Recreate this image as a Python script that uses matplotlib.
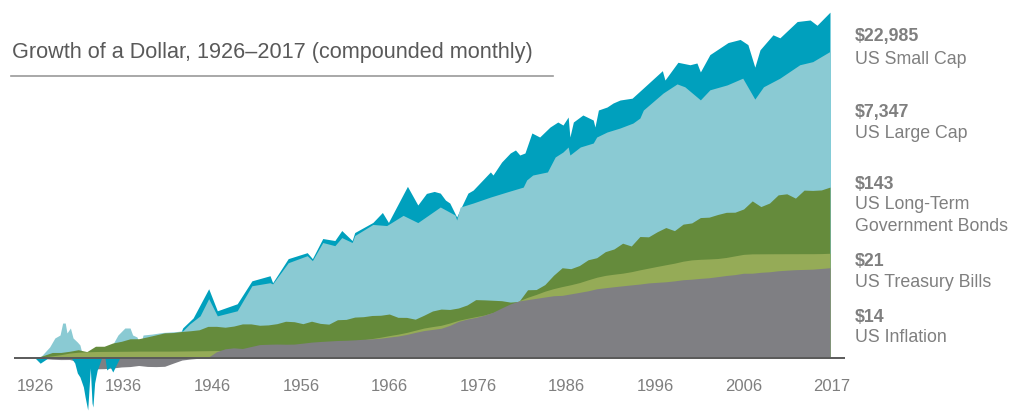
import matplotlib
matplotlib.use("Agg")
import matplotlib.pyplot as plt
from matplotlib.lines import Line2D
import matplotlib.transforms as mtransforms
import numpy as np

plt.rcParams['font.family'] = ['Liberation Sans', 'DejaVu Sans']

# growth of $1 (fractional years)
sc_years = [1926.0, 1926.6, 1927.5, 1928.8, 1929.7, 1930.2, 1930.6, 1930.9, 1931.2, 1931.6,
            1931.8, 1932.1, 1932.4, 1932.6, 1932.7, 1932.9, 1933.2, 1933.3, 1933.7, 1934.1,
            1934.3, 1934.7, 1935.0, 1935.4, 1935.8, 1936.5, 1937.3, 1938.0, 1939.5, 1941.0,
            1942.3, 1943.1, 1944.3, 1946.1, 1947.1, 1949.4, 1951.1, 1953.2, 1953.5, 1955.3,
            1957.5, 1958.1, 1959.3, 1960.7, 1961.5, 1962.7, 1963.0, 1965.1, 1966.2, 1966.9,
            1969.1, 1970.3, 1971.3, 1972.2, 1972.9, 1973.5, 1974.0, 1974.8, 1975.0, 1976.1,
            1976.7, 1978.7, 1979.0, 1980.0, 1981.0, 1981.6, 1982.1, 1982.7, 1983.5, 1984.4,
            1985.6, 1986.5, 1987.1, 1987.7, 1987.9, 1988.3, 1989.4, 1990.6, 1990.8, 1991.2,
            1992.2, 1992.9, 1993.7, 1995.1, 1996.4, 1998.6, 1998.9, 2000.4, 2001.8, 2002.6,
            2003.0, 2004.1, 2006.2, 2007.6, 2008.5, 2009.3, 2009.9, 2011.4, 2012.2, 2014.2,
            2015.7, 2016.5, 2018.0]
small_cap = [1.0, 0.86, 1.05, 1.45, 1.20, 1.0, 0.865, 0.647, 0.576, 0.431,
             0.322, 0.221, 0.748, 0.271, 0.241, 0.484, 0.706, 0.748, 1.0, 1.0,
             0.706, 0.77, 0.666, 0.82, 1.0, 1.60, 1.30, 1.10, 1.20, 1.10,
             1.50, 2.40, 3.20, 7.47, 3.94, 4.83, 9.40, 10.9, 8.90, 17.9,
             21.3, 17.9, 32.1, 30.3, 40.5, 30.3, 38.2, 51.2, 68.4, 51.2,
             146, 85, 119, 126, 120, 98, 90, 60, 67, 120,
             131, 222, 203, 296, 385, 420, 363, 385, 688, 612,
             818, 946, 867, 1094, 612, 946, 1160, 1002, 818, 1341,
             1463, 1643, 1792, 1890, 2540, 4200, 3200, 5360, 4990, 5250,
             4050, 6700, 9500, 10400, 8950, 4650, 7700, 11900, 10900, 17500,
             18300, 15700, 22985]

lc_years = [1926.0, 1926.6, 1927.7, 1928.3, 1928.9, 1929.2, 1929.5, 1929.7, 1930.1, 1930.4,
            1930.9, 1931.2, 1931.4, 1931.6, 1932.4, 1933.0, 1933.6, 1934.7, 1935.6, 1936.4,
            1937.0, 1937.3, 1937.8, 1938.2, 1938.5, 1939.5, 1940.8, 1942.3, 1943.1, 1943.9,
            1945.1, 1946.1, 1947.1, 1949.4, 1951.1, 1953.2, 1953.5, 1955.3, 1957.5, 1958.1,
            1959.3, 1960.7, 1961.5, 1962.7, 1963.0, 1965.1, 1966.7, 1968.6, 1970.3, 1972.9,
            1974.6, 1974.8, 1975.2, 1976.7, 1978.7, 1980.6, 1982.5, 1982.9, 1983.6, 1985.3,
            1986.2, 1987.1, 1987.7, 1987.9, 1989.1, 1990.6, 1991.0, 1992.2, 1993.7, 1995.2,
            1996.0, 1996.4, 1998.7, 2000.3, 2001.2, 2003.0, 2004.1, 2006.1, 2007.9, 2009.3,
            2010.3, 2012.2, 2014.5, 2016.0, 2018.0]
large_cap = [1.0, 1.02, 1.38, 1.79, 1.95, 2.76, 2.76, 2.07, 2.39, 1.79,
             1.59, 1.46, 1.19, 1.03, 0.50, 0.75, 1.10, 1.30, 1.95, 2.39,
             2.39, 1.95, 1.84, 1.40, 1.95, 2.00, 2.10, 2.15, 2.20, 2.69,
             3.40, 5.60, 3.40, 3.94, 8.15, 8.90, 8.60, 15.9, 19.5, 16.9,
             28.6, 26.1, 33.0, 28.6, 35.0, 48.3, 46.8, 62.9, 51.0, 80.2,
             63.6, 55.0, 80.0, 90.0, 107, 124, 143, 176, 203, 222,
             343, 396, 458, 363, 458, 514, 612, 708, 795, 918,
             1062, 1340, 2200, 2860, 2630, 1800, 2410, 2780, 3380, 1840,
             2630, 3380, 4990, 5460, 7347]

# year-end values, 1926 start = $1
years = np.arange(1926, 2019)
bonds = [1.0,
         1.078, 1.174, 1.175, 1.215, 1.272, 1.204, 1.407, 1.406, 1.547, 1.624,
         1.746, 1.750, 1.847, 1.957, 2.076, 2.095, 2.162, 2.207, 2.269, 2.504,
         2.507, 2.444, 2.528, 2.691, 2.692, 2.586, 2.616, 2.711, 2.906, 2.868,
         2.708, 2.910, 2.733, 2.671, 3.039, 3.068, 3.280, 3.319, 3.436, 3.460,
         3.586, 3.257, 3.250, 3.086, 3.460, 3.917, 4.140, 4.094, 4.272, 4.665,
         5.447, 5.410, 5.346, 5.280, 5.071, 5.166, 7.251, 7.298, 8.427, 11.037,
         13.745, 13.372, 14.665, 17.322, 18.392, 21.942, 23.709, 28.034, 25.856, 34.044,
         33.727, 39.074, 44.178, 40.357, 48.757, 50.526, 59.011, 59.711, 64.486, 68.699,
         68.933, 75.733, 95.740, 81.223, 89.963, 114.07, 117.66, 103.79, 130.91, 129.79,
         131.60, 143.0]
bills = [1.0,
         1.033, 1.065, 1.103, 1.155, 1.183, 1.196, 1.207, 1.211, 1.213, 1.215,
         1.217, 1.221, 1.221, 1.221, 1.221, 1.222, 1.225, 1.229, 1.233, 1.237,
         1.242, 1.248, 1.258, 1.272, 1.287, 1.306, 1.328, 1.352, 1.364, 1.385,
         1.419, 1.464, 1.486, 1.530, 1.571, 1.604, 1.648, 1.700, 1.760, 1.829,
         1.916, 1.997, 2.101, 2.239, 2.385, 2.490, 2.585, 2.764, 2.986, 3.159,
         3.319, 3.489, 3.740, 4.128, 4.592, 5.267, 5.822, 6.335, 6.959, 7.496,
         7.958, 8.393, 8.926, 9.673, 10.429, 11.012, 11.398, 11.743, 12.253, 12.942,
         13.600, 14.294, 14.993, 15.705, 16.634, 17.278, 17.566, 17.744, 17.976, 18.538,
         19.409, 20.283, 20.573, 20.603, 20.630, 20.640, 20.658, 20.669, 20.676, 20.680,
         20.743, 20.925]
inflation = [1.0,
             0.985, 0.965, 0.955, 0.957, 0.899, 0.814, 0.730, 0.734, 0.749, 0.771,
             0.780, 0.805, 0.783, 0.779, 0.786, 0.862, 0.942, 0.972, 0.993, 1.015,
             1.199, 1.307, 1.343, 1.318, 1.395, 1.477, 1.490, 1.499, 1.492, 1.497,
             1.540, 1.586, 1.615, 1.639, 1.663, 1.674, 1.695, 1.723, 1.743, 1.777,
             1.836, 1.892, 1.981, 2.102, 2.218, 2.292, 2.371, 2.579, 2.894, 3.097,
             3.246, 3.466, 3.778, 4.281, 4.812, 5.242, 5.445, 5.652, 5.875, 6.097,
             6.166, 6.438, 6.722, 7.034, 7.464, 7.693, 7.916, 8.133, 8.351, 8.563,
             8.847, 8.998, 9.143, 9.389, 9.707, 9.857, 10.091, 10.281, 10.616, 10.977,
             11.257, 11.717, 11.726, 12.047, 12.227, 12.589, 12.809, 12.998, 13.090, 13.187,
             13.466, 13.754]

end_values = ["$22,985", "$7,347", "$143", "$21", "$14"]
series_names = [["US Small Cap"], ["US Large Cap"], ["US Long-Term", "Government Bonds"],
                ["US Treasury Bills"], ["US Inflation"]]
tick_labels = ["1926", "1936", "1946", "1956", "1966", "1976", "1986", "1996", "2006", "2017"]

c_small = "#00a0bd"
c_large = "#8acad3"
c_bond = "#658b3c"
c_bill = "#95ab57"
c_infl = "#7f7f83"
c_text = "#7f7f7f"

W, H = 1011, 411
fig = plt.figure(figsize=(W / 100, H / 100), dpi=100)

# axes spans px 14..845 horizontally, full height; 1926.0 -> px 35, 2018.0 -> px 830
base_px = 358
px_per_year = (830 - 35) / 92.0
px_per_dec = 79.3
ax = fig.add_axes([14 / W, 0, (845 - 14) / W, 1])
ax.set_xlim(1926 - 21 / px_per_year, 2018 + 15 / px_per_year)
ax.set_yscale('log')
ax.set_ylim(10 ** (-(H - base_px) / px_per_dec), 10 ** (base_px / px_per_dec))
ax.axis('off')

sc = np.array(small_cap)
lc = np.array(large_cap)
ax.fill_between(sc_years, 1, np.maximum(sc, 1), color=c_small, lw=0)
ax.fill_between(lc_years, 1, np.maximum(lc, 1), color=c_large, lw=0)
ax.fill_between(years, 1, bonds, color=c_bond, lw=0)
ax.fill_between(years, 1, bills, color=c_bill, lw=0)
ax.fill_between(years, 1, inflation, color=c_infl, lw=0)
ax.fill_between(sc_years, 1, np.minimum(sc, 1), color=c_small, lw=0)
ax.axhline(1, color="#5a5a5a", lw=1.4)

# year labels along the bottom
trans = mtransforms.blended_transform_factory(ax.transData, ax.transAxes)
tick_pos = list(np.linspace(1926, 2008.05, 9)) + [2018.2]
for xp, lab in zip(tick_pos, tick_labels):
    ax.text(xp, 1 - 386 / H, lab, transform=trans, ha='center', va='center',
            fontsize=12, color=c_text)

# title + rule
fig.text(12 / W, 1 - 52 / H, "Growth of a Dollar, 1926\u20132017 (compounded monthly)",
         fontsize=15.6, color="#595959", va='center', ha='left')
fig.add_artist(Line2D([11 / W, 553 / W], [1 - 76 / H, 1 - 76 / H],
                      color="#9a9a9a", lw=1.2, transform=fig.transFigure))

# right-hand labels
value_y = [37, 112, 184, 261, 317]
name_y = [59, 133, 204, 282, 337]
for v, names, vy, ny in zip(end_values, series_names, value_y, name_y):
    fig.text(855 / W, 1 - vy / H, v, fontsize=12.8, fontweight='bold', color=c_text,
             va='center', ha='left')
    for i, n in enumerate(names):
        fig.text(855 / W, 1 - (ny + 22.5 * i) / H, n, fontsize=12.8, color=c_text,
                 va='center', ha='left')

fig.savefig("out.png", dpi=100)
